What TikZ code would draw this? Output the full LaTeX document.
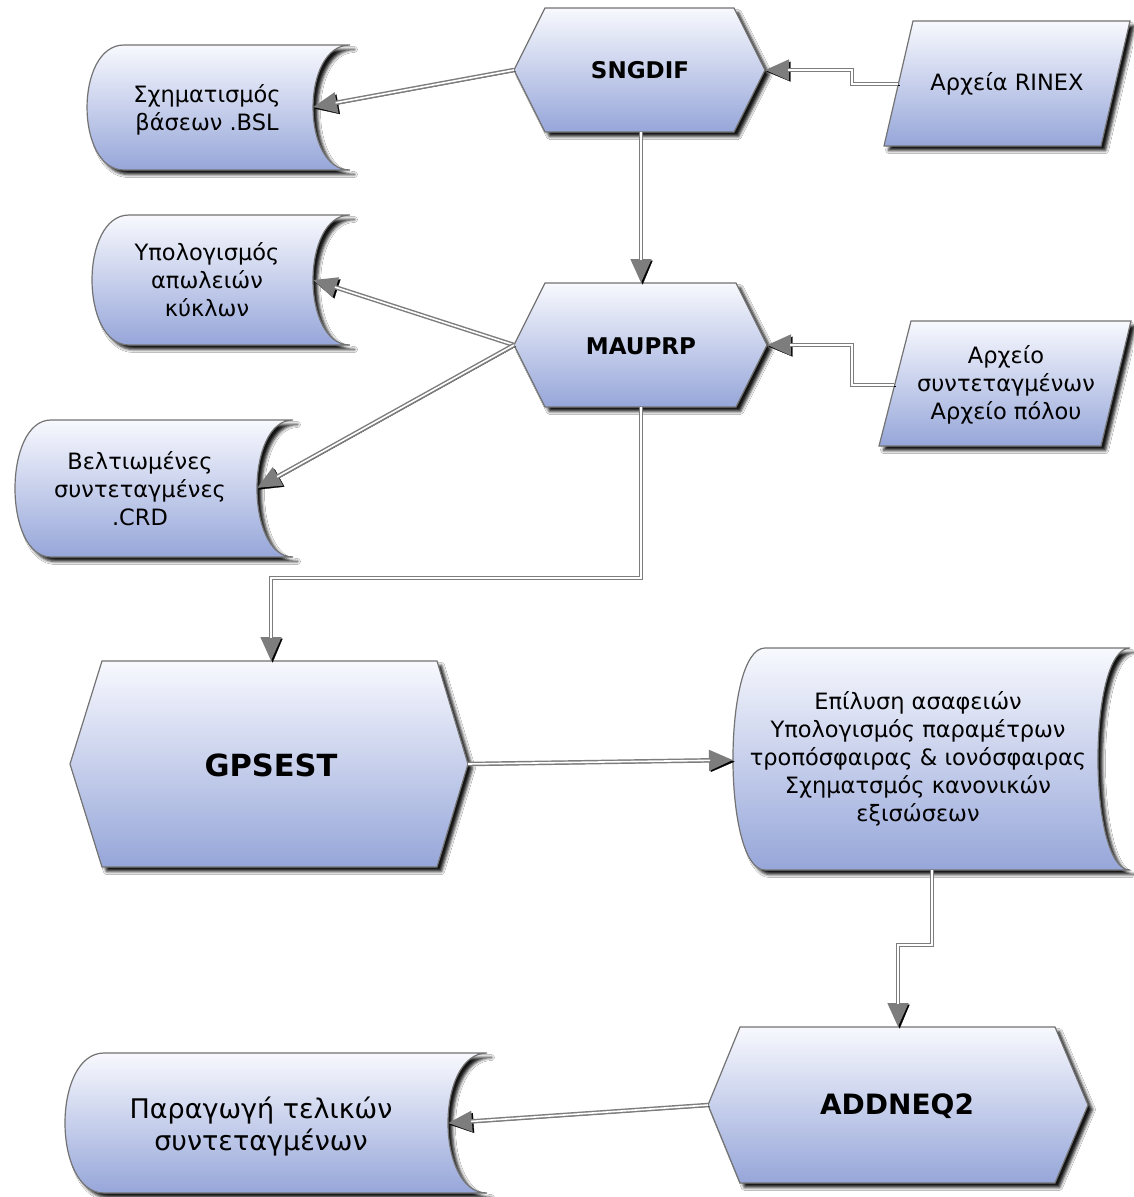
\documentclass[tikz,border=0pt]{standalone}
\usepackage{fontspec}
\setmainfont{DejaVu Sans}
\usetikzlibrary{arrows.meta,shadows.blur}
\definecolor{topc}{RGB}{248,249,254}
\definecolor{botc}{RGB}{150,166,217}
\definecolor{edgec}{RGB}{115,115,115}
\definecolor{linec}{RGB}{125,125,125}
\tikzset{
 shapebox/.style={draw=edgec, line width=1.2pt, top color=topc, bottom color=botc,
   blur shadow={shadow xshift=4.5pt, shadow yshift=-4.5pt, shadow blur radius=3pt, shadow opacity=92}},
 txt/.style={align=center, font=\fontsize{22.5}{28}\selectfont, inner sep=0pt},
 boldtxt/.style={font=\bfseries\fontsize{23}{28}\selectfont, inner sep=0pt},
 tipshadow/.style={draw=black, line width=0.3pt, -{Triangle[length=24pt,width=20pt]}, transform canvas={shift={(1.6pt,-1.6pt)}}},
 outerln/.style={draw=linec, line width=4.5pt, -{Triangle[length=24pt,width=20pt]}},
 innerln/.style={draw=white, line width=1.6pt, shorten >=23pt},
}
\newcommand\myconn[1]{\draw[tipshadow] #1; \draw[outerln] #1; \draw[innerln] #1;}
\begin{document}
\begin{tikzpicture}[x=1pt,y=-1pt]
\useasboundingbox (0,0) rectangle (1133,1197);
\fill[white] (0,0) rectangle (1133,1197);
% hexagons
\path[shapebox] (514,70) -- (545,8) -- (734,8) -- (765,70) -- (734,132) -- (545,132) -- cycle;
\path[shapebox] (514,345) -- (545,283) -- (736,283) -- (767,345) -- (736,407) -- (545,407) -- cycle;
\path[shapebox] (70,764) -- (102,661) -- (437,661) -- (468,764) -- (437,867) -- (102,867) -- cycle;
\path[shapebox] (708,1105) -- (740,1027) -- (1055,1027) -- (1088,1105) -- (1055,1183) -- (740,1183) -- cycle;
% stored data
\path[shapebox] (124,45) -- (350,45) .. controls (300.7,45) and (300.7,170) .. (350,170) -- (124,170) .. controls (74.7,170) and (74.7,45) .. cycle;
\path[shapebox] (129,215) -- (350,215) .. controls (300.7,215) and (300.7,345) .. (350,345) -- (129,345) .. controls (79.7,345) and (79.7,215) .. cycle;
\path[shapebox] (51,420) -- (293,420) .. controls (245,420) and (245,557) .. (293,557) -- (51,557) .. controls (3,557) and (3,420) .. cycle;
\path[shapebox] (765,648) -- (1130,648) .. controls (1087.3,648) and (1087.3,870) .. (1130,870) -- (765,870) .. controls (722.3,870) and (722.3,648) .. cycle;
\path[shapebox] (104,1053) -- (487,1053) .. controls (435,1053) and (435,1193) .. (487,1193) -- (104,1193) .. controls (52,1193) and (52,1053) .. cycle;
% parallelograms
\path[shapebox] (913,21) -- (1130,21) -- (1101,146) -- (884,146) -- cycle;
\path[shapebox] (911,321) -- (1131,321) -- (1101,446) -- (879,446) -- cycle;
% texts
\node[boldtxt] (sng) at (640,70) {SNGDIF};
\node[boldtxt] (mau) at (641,346) {MAUPRP};
\node[boldtxt, font=\bfseries\fontsize{30.5}{36}\selectfont] (gps) at (271,765) {GPSEST};
\node[boldtxt, font=\bfseries\fontsize{28}{34}\selectfont] (add) at (897,1106) {ADDNEQ2};
\node[txt] (bsl) at (207,110) {Σχηματισμός\\βάσεων .BSL};
\node[txt] (cyc) at (207,280) {Υπολογισμός\\απωλειών\\κύκλων};
\node[txt] (crd) at (140,489) {Βελτιωμένες\\συντεταγμένες\\.CRD};
\node[txt] (rin) at (1007,84) {Αρχεία RINEX};
\node[txt] (pol) at (1006,385) {Αρχείο\\συντεταγμένων\\Αρχείο πόλου};
\node[txt] (amb) at (918,759) {Επίλυση ασαφειών\\Υπολογισμός παραμέτρων\\τροπόσφαιρας \& ιονόσφαιρας\\Σχηματσμός κανονικών\\εξισώσεων};
\node[txt, font=\fontsize{27}{32}\selectfont] (fin) at (261,1126) {Παραγωγή τελικών\\συντεταγμένων};
% anchor coordinates
\coordinate (sngL) at (514,70);
\coordinate (sngR) at (765,70);
\coordinate (sngB) at (641,132);
\coordinate (mauT) at (641,283);
\coordinate (mauL) at (514,345);
\coordinate (mauR) at (767,345);
\coordinate (mauB) at (641,407);
\coordinate (bslR) at (313,107);
\coordinate (cycR) at (313,280);
\coordinate (crdR) at (257,488);
\coordinate (rinL) at (898,84);
\coordinate (polL) at (894,385);
\coordinate (gpsT) at (271,661);
\coordinate (gpsR) at (468,764);
\coordinate (ambL) at (733,760);
\coordinate (ambB) at (932,870);
\coordinate (addT) at (898,1027);
\coordinate (addL) at (708,1105);
\coordinate (finR) at (448,1123);
% connectors
\myconn{(sngL) -- (bslR)}
\myconn{(rinL) -- (852,84) |- (sngR)}
\myconn{(sngB) -- (mauT)}
\myconn{(mauL) -- (cycR)}
\myconn{(mauL) -- (crdR)}
\myconn{(polL) -- (852,385) |- (mauR)}
\myconn{(mauB) -- (641,578) -| (gpsT)}
\myconn{(gpsR) -- (ambL)}
\myconn{(ambB) -- (932,945) -| (addT)}
\myconn{(addL) -- (finR)}
\end{tikzpicture}
\end{document}
